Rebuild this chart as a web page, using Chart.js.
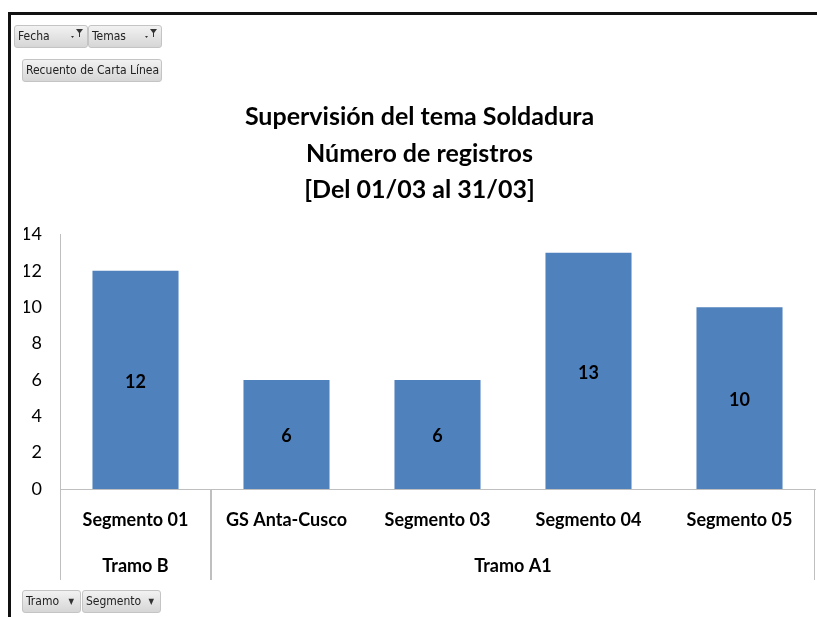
<!DOCTYPE html>
<html lang="es">

<head>
  <meta charset="UTF-8" />
  <script src="https://cdn.jsdelivr.net/npm/chart.js"></script>
  <title>Supervisión Soldadura</title>
  <style>
    body { margin: 0; background: #fff; width: 817px; height: 617px; overflow: hidden; position: relative; }
    #grafico { position: absolute; left: 0; top: 0; }
    .marco { position: absolute; left: 8px; top: 12px; width: 809px; height: 605px;
      border-top: 3px solid #111; border-left: 3px solid #111; box-sizing: border-box; pointer-events: none; }
    .boton { position: absolute; height: 23px; box-sizing: border-box; border: 1px solid #c4c4c4; border-radius: 3px;
      background: linear-gradient(#f2f2f2, #d6d6d6); font-family: "Liberation Sans Narrow", "DejaVu Sans Condensed", sans-serif;
      font-size: 12px; color: #222; line-height: 21px; padding-left: 3px; white-space: nowrap; }
    .boton .flecha { position: absolute; right: 6px; top: 0; font-size: 8px; color: #333; }
    .boton svg { position: absolute; right: 3px; top: 2px; }
  </style>
</head>

<body>
  <canvas id="grafico" width="817" height="617"></canvas>
  <div class="marco"></div>

  <div class="boton" style="left:14px; top:25px; width:74px;">Fecha
    <svg width="14" height="12" viewBox="0 0 14 12"><path d="M1 8 L4 8 L2.5 10 Z" fill="#333"/><path d="M6 1 L13 1 L10 5 L10 9 L9 9 L9 5 Z" fill="#333"/></svg>
  </div>
  <div class="boton" style="left:88px; top:25px; width:74px;">Temas
    <svg width="14" height="12" viewBox="0 0 14 12"><path d="M1 8 L4 8 L2.5 10 Z" fill="#333"/><path d="M6 1 L13 1 L10 5 L10 9 L9 9 L9 5 Z" fill="#333"/></svg>
  </div>
  <div class="boton" style="left:22px; top:59px; width:140px;">Recuento de Carta Línea</div>

  <div class="boton" style="left:22px; top:590px; width:59px;">Tramo <span class="flecha">▼</span></div>
  <div class="boton" style="left:82px; top:590px; width:79px;">Segmento <span class="flecha">▼</span></div>

  <script>
    // datos
    const segmentos = ["Segmento 01", "GS Anta-Cusco", "Segmento 03", "Segmento 04", "Segmento 05"];
    const tramos = ["Tramo B", "Tramo A1", "Tramo A1", "Tramo A1", "Tramo A1"];
    const registros = [12, 6, 6, 13, 10];
    const titulo = ["Supervisión del tema Soldadura", "Número de registros", "[Del 01/03 al 31/03]"];

    const fuente = "Lato, 'Open Sans', sans-serif";
    const gris = "#bfbfbf";

    // etiquetas dentro de las barras
    const etiquetasBarras = {
      id: "etiquetasBarras",
      afterDatasetsDraw(chart) {
        const ctx = chart.ctx;
        const meta = chart.getDatasetMeta(0);
        ctx.save();
        ctx.font = "bold 18px " + fuente;
        ctx.fillStyle = "#000";
        ctx.textAlign = "center";
        ctx.textBaseline = "middle";
        meta.data.forEach(function (barra, i) {
          ctx.fillText(registros[i], barra.x, (barra.y + barra.base) / 2 + 2);
        });
        ctx.restore();
      }
    };

    // segundo nivel del eje X (tramos)
    const ejeTramos = {
      id: "ejeTramos",
      afterDraw(chart) {
        const ctx = chart.ctx;
        const x = chart.scales.x;
        const ancho = (x.right - x.left) / segmentos.length;
        const arriba = x.top;
        const abajo = 580;
        ctx.save();
        ctx.strokeStyle = gris;
        ctx.lineWidth = 1;

        let inicio = 0;
        for (let i = 1; i <= tramos.length; i++) {
          if (i == tramos.length || tramos[i] != tramos[inicio]) {
            const izq = x.getPixelForValue(inicio) - ancho / 2;
            const der = x.getPixelForValue(i - 1) + ancho / 2;
            ctx.beginPath();
            ctx.moveTo(Math.round(izq) + 0.5, arriba);
            ctx.lineTo(Math.round(izq) + 0.5, abajo);
            ctx.moveTo(Math.round(der) - 0.5, arriba);
            ctx.lineTo(Math.round(der) - 0.5, abajo);
            ctx.stroke();

            ctx.font = "bold 18px " + fuente;
            ctx.fillStyle = "#000";
            ctx.textAlign = "center";
            ctx.textBaseline = "middle";
            ctx.fillText(tramos[inicio], (izq + der) / 2, 566);
            inicio = i;
          }
        }
        ctx.restore();
      }
    };

    const config = {
      type: "bar",
      data: {
        labels: segmentos,
        datasets: [
          {
            label: "Total",
            data: registros,
            backgroundColor: "#4f81bd",
            borderWidth: 0,
            barPercentage: 0.57,
            categoryPercentage: 1,
          },
        ],
      },
      options: {
        responsive: false,
        animation: false,
        layout: {
          padding: { top: 10, left: 24, right: 2, bottom: 0 },
        },
        scales: {
          x: {
            grid: { display: false, drawTicks: false },
            border: { color: gris },
            ticks: {
              color: "#000",
              padding: 20,
              maxRotation: 0,
              font: { family: fuente, size: 18, weight: "bold" },
            },
            afterFit: function (scale) {
              scale.height = 128;
            },
          },
          y: {
            min: 0,
            max: 14,
            grid: { display: false, drawTicks: false },
            border: { color: gris },
            ticks: {
              stepSize: 2,
              color: "#000",
              padding: 18,
              font: { family: fuente, size: 18 },
            },
            afterFit: function (scale) {
              scale.width = 36;
            },
          },
        },
        plugins: {
          legend: { display: false },
          tooltip: { enabled: false },
          title: {
            display: true,
            text: titulo,
            color: "#000",
            font: { family: fuente, size: 25, weight: "bold", lineHeight: 1.46 },
            padding: { top: 89, bottom: 26 },
          },
        },
      },
      plugins: [etiquetasBarras, ejeTramos],
    };

    let myChart = new Chart(document.getElementById("grafico").getContext("2d"), config);
  </script>
</body>

</html>
